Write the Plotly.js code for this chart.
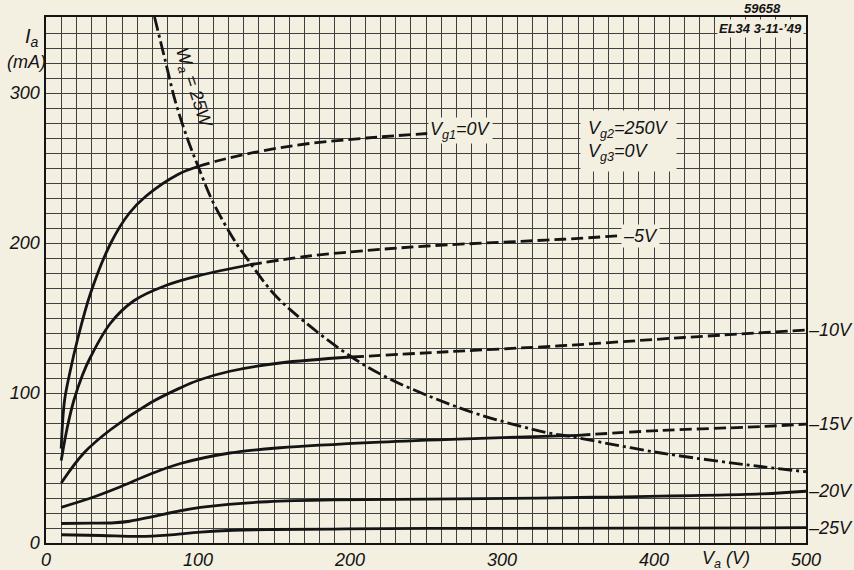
<!DOCTYPE html>
<html>
<head>
<meta charset="utf-8">
<script src="https://cdn.plot.ly/plotly-3.0.1.min.js"></script>
<style>
  html, body { margin: 0; padding: 0; background: #f3efe1; }
  #chart { width: 854px; height: 570px; }
</style>
</head>
<body>
<div id="chart"></div>
<script>
// ---- Data (Va in V, Ia in mA) ----
const xTickVals = [0, 100, 200, 300, 400, 500];
const xTickText = ['0', '100', '200', '300', '400', '500'];
const yTickVals = [0, 100, 200, 300];
const yTickText = ['0', '100', '200', '300'];

// Vg1 = 0 V
const va_g0_solid = [10, 12.2, 16, 20.7, 29.3, 42.4, 54.5, 65.5, 87.4, 100];
const ia_g0_solid = [63, 95, 115, 135.5, 166.5, 199.5, 219.5, 231, 246, 251];
const va_g0_dash  = [100, 113.7, 140, 170.7, 211, 250.8];
const ia_g0_dash  = [251, 255, 261, 266, 270, 273];

// Vg1 = -5 V
const va_g5_solid = [10, 14, 18.3, 24, 29.3, 42.4, 57.8, 79.7, 101.6, 134];
const ia_g5_solid = [55, 77, 95, 112, 124, 146.5, 161.5, 172, 178.5, 185.5];
const va_g5_dash  = [134, 170.7, 211, 250.8, 299, 340, 380];
const ia_g5_dash  = [185.5, 191, 195, 198, 200.5, 202.5, 205];

// Vg1 = -10 V
const va_g10_solid = [10, 24.9, 42.4, 68.8, 88.5, 100.3, 121, 154, 201];
const ia_g10_solid = [40, 60, 75.5, 93.5, 103.5, 108.5, 114.5, 120, 124];
const va_g10_dash  = [201, 264, 338.5, 419.6, 500];
const ia_g10_dash  = [124, 127.5, 131.5, 137, 142];

// Vg1 = -15 V
const va_g15_solid = [10, 29, 49, 68.8, 88.5, 121, 154, 220, 286, 350];
const ia_g15_solid = [23.8, 29.8, 37.5, 46, 53, 60, 63.5, 67.3, 69.8, 71.8];
const va_g15_dash  = [350, 404, 470, 500];
const ia_g15_dash  = [71.8, 75, 77.6, 79.3];

// Vg1 = -20 V
const va_g20 = [10, 30, 45, 55, 68.8, 88.5, 101.6, 120, 145.5, 189, 251, 360, 470, 500];
const ia_g20 = [13, 13.2, 13.5, 14.5, 17.3, 21.5, 23.7, 25.8, 27.5, 28.7, 29.2, 30.5, 32.7, 34.5];

// Vg1 = -25 V
const va_g25 = [10, 36, 62, 80, 101.6, 123.5, 150, 189, 251, 500];
const ia_g25 = [5.5, 5.0, 4.4, 5.3, 7.3, 8.5, 9.0, 9.3, 9.7, 10.2];

// Anode dissipation limit Wa = 25 W
const va_wa = [71.4, 78.6, 85.2, 92.9, 100.5, 110, 125, 131.3, 150, 170.7, 201, 225, 253, 286, 330, 345, 404.5, 470, 500];
const ia_wa = [350.7, 321, 294, 270, 250, 227, 200, 191, 166, 147, 124, 110, 97.5, 85.3, 73.5, 71, 60, 51, 47.5];

// ---- Styling ----
const BG = '#f3efe1';
const INK = '#141414';
const GRID = '#404040';
const FONT = 'Liberation Sans, Arial, sans-serif';
const solid = { color: INK, width: 2.8, shape: 'spline', smoothing: 1 };
const dashed = { color: INK, width: 2.8, shape: 'spline', smoothing: 1, dash: '12px,5px' };
const dashdot = { color: INK, width: 2.8, shape: 'spline', smoothing: 1, dash: '14px,4px,3px,4px' };

function tr(x, y, line) {
  return { x: x, y: y, type: 'scatter', mode: 'lines', line: line, hoverinfo: 'skip', showlegend: false };
}

const traces = [
  tr(va_g0_solid, ia_g0_solid, solid), tr(va_g0_dash, ia_g0_dash, dashed),
  tr(va_g5_solid, ia_g5_solid, solid), tr(va_g5_dash, ia_g5_dash, dashed),
  tr(va_g10_solid, ia_g10_solid, solid), tr(va_g10_dash, ia_g10_dash, dashed),
  tr(va_g15_solid, ia_g15_solid, solid), tr(va_g15_dash, ia_g15_dash, dashed),
  tr(va_g20, ia_g20, solid),
  tr(va_g25, ia_g25, solid),
  tr(va_wa, ia_wa, dashdot)
];

// plot area: x 46..806 px, y 17..543 px
const L = 46, T = 17, W = 760, H = 526;
const px = p => (p - L) / W;
const py = p => (T + H - p) / H;
const f = (size, weight) => ({ family: FONT, size: size, color: INK, style: 'italic', weight: weight || 'normal' });
const C = { xanchor: 'center', yanchor: 'middle', showarrow: false };

const annotations = [
  { x: 251.6, y: 274.7, xref: 'x', yref: 'y', xanchor: 'left', yanchor: 'middle', showarrow: false,
    text: 'V<sub>g1</sub>=0V', font: f(18), bgcolor: BG, borderpad: 1 },
  { x: 378, y: 204.7, xref: 'x', yref: 'y', xanchor: 'left', yanchor: 'middle', showarrow: false,
    text: '–5V', font: f(18), bgcolor: BG, borderpad: 1 },
  { x: 500, y: 142, xref: 'x', yref: 'y', xanchor: 'left', yanchor: 'middle', showarrow: false,
    text: '–10V', font: f(18) },
  { x: 500, y: 79.3, xref: 'x', yref: 'y', xanchor: 'left', yanchor: 'middle', showarrow: false,
    text: '–15V', font: f(18) },
  { x: 500, y: 34.7, xref: 'x', yref: 'y', xanchor: 'left', yanchor: 'middle', showarrow: false,
    text: '–20V', font: f(18) },
  { x: 500, y: 10, xref: 'x', yref: 'y', xanchor: 'left', yanchor: 'middle', showarrow: false,
    text: '–25V', font: f(18) },
  { x: 351.3, y: 268, xref: 'x', yref: 'y', xanchor: 'left', yanchor: 'middle', showarrow: false, align: 'left',
    text: 'V<sub>g2</sub>=250V<br>V<sub>g3</sub>=0V', font: f(18), bgcolor: BG, borderpad: 7 },
  Object.assign({ x: 92, y: 303, xref: 'x', yref: 'y', textangle: 72, xshift: 7,
    text: 'W<sub>a</sub> = 25W', font: f(18) }, C),
  Object.assign({ x: px(762), y: py(8), xref: 'paper', yref: 'paper',
    text: '59658', font: f(13, 'bold') }, C),
  Object.assign({ x: px(760), y: py(28), xref: 'paper', yref: 'paper',
    text: 'EL34 3-11-’49', font: f(13, 'bold'), bgcolor: BG, borderpad: 1 }, C),
  Object.assign({ x: px(32), y: py(37), xref: 'paper', yref: 'paper',
    text: 'I<sub>a</sub>', font: f(20) }, C),
  Object.assign({ x: px(26), y: py(62), xref: 'paper', yref: 'paper',
    text: '(mA)', font: f(18) }, C),
  Object.assign({ x: px(726), y: py(559), xref: 'paper', yref: 'paper',
    text: 'V<sub>a</sub> (V)', font: f(18) }, C)
];

const axisCommon = {
  showline: true, mirror: true, linecolor: INK, linewidth: 1.6,
  showgrid: true, gridcolor: GRID, gridwidth: 1,
  zeroline: false, ticks: '', fixedrange: true,
  tickfont: f(18)
};

const layout = {
  width: 854, height: 570,
  margin: { l: L, r: 854 - L - W, t: T, b: 570 - T - H, pad: 0 },
  paper_bgcolor: BG, plot_bgcolor: BG,
  showlegend: false,
  xaxis: Object.assign({}, axisCommon, {
    range: [0, 500], tickvals: xTickVals, ticktext: xTickText,
    minor: { dtick: 10, showgrid: true, gridcolor: GRID, gridwidth: 1 },
    ticklabelstandoff: 0
  }),
  yaxis: Object.assign({}, axisCommon, {
    range: [0, 350.67], tickvals: yTickVals, ticktext: yTickText,
    minor: { dtick: 10, showgrid: true, gridcolor: GRID, gridwidth: 1 },
    ticklabelstandoff: 1
  }),
  annotations: annotations
};

Plotly.newPlot('chart', traces, layout, { staticPlot: true, displayModeBar: false });
</script>
</body>
</html>
